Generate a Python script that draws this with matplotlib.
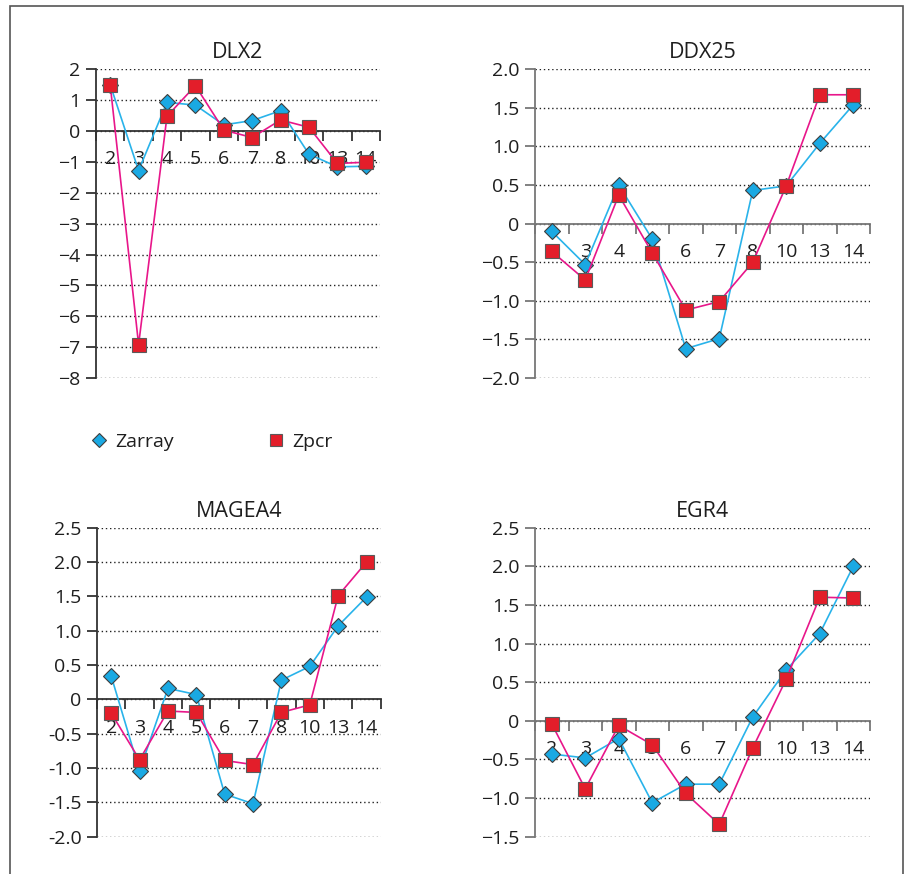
import matplotlib.pyplot as plt
from matplotlib.lines import Line2D
from matplotlib.patches import Rectangle

plt.rcParams['font.family'] = ['Open Sans', 'DejaVu Sans']

# sample numbers on the category axis
samples = ["2", "3", "4", "5", "6", "7", "8", "10", "13", "14"]

# DLX2
dlx2_zarray = [1.50, -1.28, 0.93, 0.84, 0.20, 0.34, 0.66, -0.75, -1.16, -1.14]
dlx2_zpcr = [1.50, -6.92, 0.48, 1.47, 0.03, -0.21, 0.36, 0.12, -1.05, -1.01]

# DDX25
ddx25_zarray = [-0.10, -0.53, 0.50, -0.20, -1.62, -1.49, 0.43, 0.49, 1.04, 1.54]
ddx25_zpcr = [-0.36, -0.73, 0.37, -0.38, -1.12, -1.01, -0.50, 0.49, 1.67, 1.67]

# MAGEA4
magea4_zarray = [0.34, -1.04, 0.16, 0.07, -1.38, -1.52, 0.28, 0.48, 1.07, 1.49]
magea4_zpcr = [-0.20, -0.88, -0.17, -0.19, -0.89, -0.95, -0.19, -0.08, 1.51, 2.00]

# EGR4
egr4_zarray = [-0.43, -0.48, -0.23, -1.06, -0.82, -0.82, 0.05, 0.66, 1.13, 2.00]
egr4_zpcr = [-0.04, -0.88, -0.06, -0.31, -0.94, -1.34, -0.35, 0.54, 1.60, 1.59]

blue = "#1aa9e3"
blue_line = "#29b3ea"
red = "#e31e2a"
pink = "#e8168a"
txt = "#1e1e1e"

W, H = 911, 874
fig = plt.figure(figsize=(W / 100, H / 100), dpi=100)


def box(x0, y0, x1, y1):
    # pixel box (top-left origin) -> figure fraction
    return [x0 / W, 1 - y1 / H, (x1 - x0) / W, (y1 - y0) / H]


def panel(rect, title, za, zp, ylim, yticks, ylabels, axcol):
    ax = fig.add_axes(rect)
    x = list(range(len(samples)))
    ax.plot(x, za, color=blue_line, lw=1.2, marker="D", ms=8.5,
            mfc=blue, mec="#3d3d3d", mew=0.8, zorder=3)
    ax.plot(x, zp, color=pink, lw=1.2, marker="s", ms=9.5,
            mfc=red, mec="#5a5a5a", mew=0.8, zorder=4)
    ax.set_xlim(-0.5, len(samples) - 0.5)
    ax.set_ylim(*ylim)
    ax.set_yticks(yticks)
    ax.set_yticklabels(ylabels)
    ax.yaxis.grid(True, linestyle=(0, (1, 2)), color="#222222", lw=1.0)
    ax.set_axisbelow(True)
    for s in ["top", "right"]:
        ax.spines[s].set_visible(False)
    ax.spines["left"].set_color(axcol)
    ax.spines["left"].set_linewidth(1.3)
    ax.spines["bottom"].set_position(("data", 0))
    ax.spines["bottom"].set_color(axcol)
    ax.spines["bottom"].set_linewidth(1.3)
    ax.set_xticks([i - 0.5 for i in range(len(samples) + 1)])
    ax.set_xticklabels([])
    ax.set_xticks(x, minor=True)
    ax.set_xticklabels(samples, minor=True)
    ax.tick_params(axis="x", which="major", direction="out", length=7,
                   width=1.3, color=axcol)
    ax.tick_params(axis="x", which="minor", length=0, pad=14,
                   labelsize=14, labelcolor=txt)
    ax.tick_params(axis="y", direction="out", length=7, width=1.3,
                   color=axcol, pad=4, labelsize=14, labelcolor=txt)
    ax.set_title(title, fontsize=15.5, color=txt, pad=8)
    return ax


panel(box(96, 69.3, 380, 378), "DLX2", dlx2_zarray, dlx2_zpcr, (-8, 2),
      list(range(-8, 3)), ["\u2212%d" % -v if v < 0 else str(v) for v in range(-8, 3)],
      "#333333")

half = [-2.0, -1.5, -1.0, -0.5, 0, 0.5, 1.0, 1.5, 2.0]
panel(box(535, 69.3, 870, 378), "DDX25", ddx25_zarray, ddx25_zpcr, (-2, 2),
      half, ["\u22122.0", "\u22121.5", "\u22121.0", "\u22120.5", "0", "0.5", "1.0", "1.5", "2.0"],
      "#777777")

mag_ticks = [-2.0, -1.5, -1.0, -0.5, 0, 0.5, 1.0, 1.5, 2.0, 2.5]
panel(box(97, 527.7, 380.7, 836.7), "MAGEA4", magea4_zarray, magea4_zpcr, (-2, 2.5),
      mag_ticks, ["-2.0", "-1.5", "-1.0", "-0.5", "0", "0.5", "1.0", "1.5", "2.0", "2.5"],
      "#333333")

egr_ticks = [-1.5, -1.0, -0.5, 0, 0.5, 1.0, 1.5, 2.0, 2.5]
panel(box(535, 527.7, 870, 836.7), "EGR4", egr4_zarray, egr4_zpcr, (-1.5, 2.5),
      egr_ticks, ["\u22121.5", "\u22121.0", "\u22120.5", "0", "0.5", "1.0", "1.5", "2.0", "2.5"],
      "#777777")

handles = [
    Line2D([], [], ls="none", marker="D", ms=7.5, mfc=blue, mec="#3d3d3d", mew=0.8),
    Line2D([], [], ls="none", marker="s", ms=8, mfc=red, mec="#5a5a5a", mew=0.8),
]
fig.legend(handles, ["Zarray", "Zpcr"], loc="center left",
           bbox_to_anchor=(72 / W, 1 - 442 / H), ncol=2, frameon=False,
           handlelength=1.0, handletextpad=0.3, columnspacing=4.8,
           fontsize=14, labelcolor=txt)

# outer frame, open at the bottom
fig.add_artist(Rectangle((10 / W, -0.05), 893 / W, 1.05 - 6 / H,
                         transform=fig.transFigure, fill=False,
                         ec="#555555", lw=1.2))

fig.savefig("out.png", dpi=100)
